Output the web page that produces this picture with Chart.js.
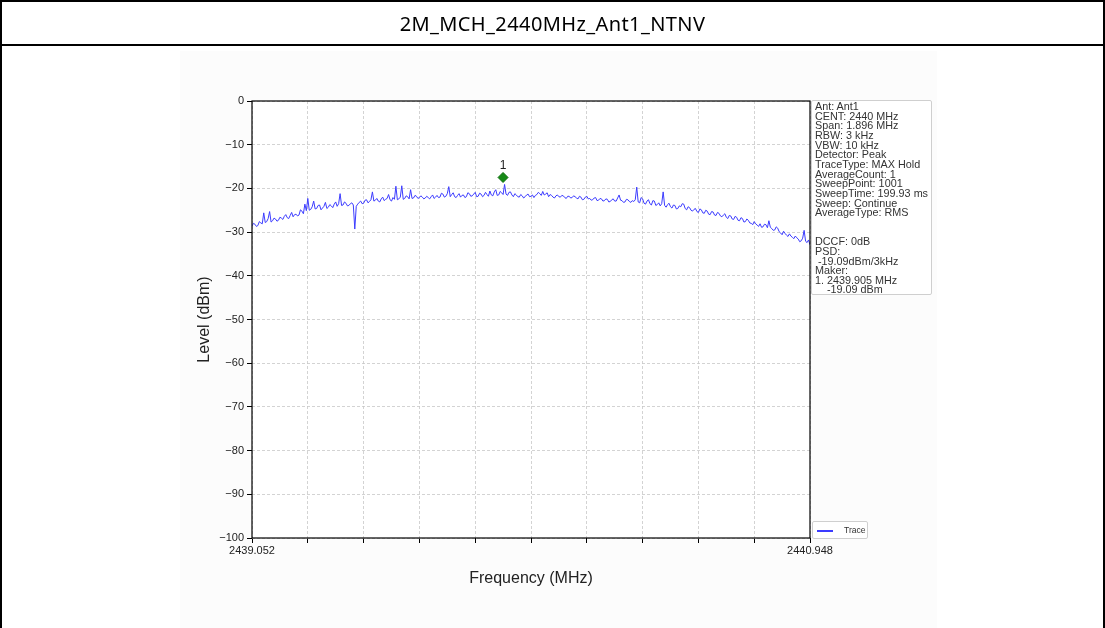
<!DOCTYPE html>
<html>
<head>
<meta charset="utf-8">
<script src="https://cdn.jsdelivr.net/npm/chart.js@4.4.1/dist/chart.umd.min.js"></script>
<style>
  html, body { margin:0; padding:0; background:#fff; width:1105px; height:628px; overflow:hidden; }
  #frame { position:absolute; left:0; top:0; width:1101px; height:640px; border:2px solid #000; border-bottom:none; }
  #titleRow { position:absolute; left:2px; top:2px; width:1101px; height:42px; border-bottom:2px solid #000;
    font-family:"Noto Sans", sans-serif; font-size:20px; letter-spacing:0.4px; color:#000;
    display:flex; align-items:center; justify-content:center; }
  #figbg { position:absolute; left:180px; top:51px; width:757px; height:577px; background:#fcfcfc; }
  #chartWrap { position:absolute; left:0; top:0; width:1105px; height:628px; }
  #info { position:absolute; left:811px; top:100px; width:121px; height:195px; background:#fff;
    border:1px solid #cfcfcf; border-radius:2px; box-sizing:border-box;
    font-family:"Liberation Sans", Arial, sans-serif; font-size:10.8px; line-height:9.65px; color:#333;
    padding:1px 0 0 3px; white-space:pre; }
  #legend { position:absolute; left:812px; top:521px; width:56px; height:18px; background:#fff;
    border:1px solid #cfcfcf; border-radius:2px; box-sizing:border-box; }
  #legend .ln { position:absolute; left:4px; top:8px; width:16px; height:1.5px; background:#3c3cff; }
  #legend .tx { position:absolute; left:31px; top:3px; font-family:"Liberation Sans", Arial, sans-serif; font-size:8.6px; color:#333; }
</style>
</head>
<body>
<div id="figbg"></div>
<div id="chartWrap"><canvas id="c" width="1105" height="628"></canvas></div>
<div id="frame"></div>
<div id="titleRow">2M_MCH_2440MHz_Ant1_NTNV</div>
<div id="info">Ant: Ant1
CENT: 2440 MHz
Span: 1.896 MHz
RBW: 3 kHz
VBW: 10 kHz
Detector: Peak
TraceType: MAX Hold
AverageCount: 1
SweepPoint: 1001
SweepTime: 199.93 ms
Sweep: Continue
AverageType: RMS


DCCF: 0dB
PSD:
 -19.09dBm/3kHz
Maker:
1. 2439.905 MHz
    -19.09 dBm</div>
<div id="legend"><div class="ln"></div><div class="tx">Trace</div></div>
<script>
// ---- data ----
const sweepStart = 2439.052;
const sweepStop = 2440.948;
const levels = [
  -28.6, -28.0, -28.2, -28.7, -28.5, -27.6, -27.9, -28.1, -25.6, -27.8, -27.6, -26.9, -25.3, -27.7, -27.4, -26.8, -27.0, -27.5, -27.3, -26.6,
  -26.8, -27.1, -26.4, -26.0, -26.7, -26.9, -26.2, -25.5, -26.5, -26.0, -25.9, -26.3, -26.1, -24.9, -25.2, -25.8, -23.6, -25.1, -22.3, -25.0,
  -24.8, -24.2, -22.9, -24.7, -24.6, -23.9, -23.8, -24.9, -24.5, -24.1, -23.2, -24.6, -24.3, -23.7, -24.0, -24.4, -23.6, -23.1, -24.1, -23.5,
  -21.2, -23.9, -23.8, -23.1, -23.4, -24.0, -23.9, -23.5, -23.3, -23.8, -29.3, -24.1, -23.6, -23.2, -22.9, -23.5, -23.4, -22.7, -22.6, -23.3,
  -23.0, -22.6, -20.8, -22.9, -22.7, -22.3, -22.9, -23.1, -22.4, -22.0, -22.8, -22.5, -22.3, -21.4, -22.6, -22.9, -22.1, -22.5, -19.5, -22.6,
  -22.4, -22.0, -19.4, -22.5, -22.3, -21.7, -21.9, -22.4, -20.3, -22.3, -22.2, -21.6, -21.8, -22.3, -22.1, -21.7, -22.0, -22.4, -22.2, -21.8,
  -22.1, -22.4, -21.9, -21.5, -22.3, -22.0, -21.6, -22.1, -22.0, -21.1, -21.3, -22.0, -21.8, -21.2, -19.6, -21.9, -21.4, -21.0, -21.9, -22.1,
  -21.6, -21.2, -22.0, -21.6, -21.5, -22.1, -21.9, -21.0, -21.2, -21.8, -21.7, -21.3, -20.9, -21.9, -21.8, -21.1, -21.3, -21.9, -21.6, -20.9,
  -21.4, -21.8, -20.6, -21.5, -21.7, -20.8, -20.3, -21.6, -21.5, -20.7, -21.0, -21.4, -19.1, -21.3, -21.6, -20.9, -20.8, -21.5, -21.9, -21.2,
  -21.5, -21.9, -22.0, -21.4, -21.7, -22.2, -21.9, -21.5, -21.3, -21.9, -21.8, -21.5, -22.1, -21.6, -21.4, -20.9, -21.2, -21.6, -20.7, -21.5,
  -21.3, -21.0, -21.9, -21.4, -21.6, -22.0, -22.2, -21.7, -21.5, -21.9, -22.0, -21.6, -21.7, -22.1, -22.3, -21.8, -21.8, -22.2, -22.1, -21.7,
  -21.9, -22.2, -22.4, -21.8, -22.0, -22.6, -22.5, -22.0, -21.8, -22.4, -22.3, -22.7, -22.6, -22.2, -22.1, -22.8, -22.7, -22.3, -22.4, -22.9,
  -22.8, -22.4, -22.5, -23.1, -23.0, -22.6, -22.4, -22.9, -22.9, -22.2, -21.5, -22.7, -22.8, -23.2, -23.1, -22.5, -22.6, -23.0, -23.2, -22.8,
  -23.0, -22.6, -19.7, -23.1, -23.3, -22.1, -22.4, -23.4, -23.6, -22.9, -22.6, -23.5, -23.8, -22.8, -22.9, -23.9, -23.7, -23.3, -24.0, -23.5,
  -20.8, -23.9, -24.3, -23.7, -23.4, -24.2, -24.5, -23.8, -23.9, -24.7, -24.6, -24.0, -24.2, -23.5, -23.6, -24.6, -24.9, -24.2, -24.4, -25.0,
  -25.2, -24.8, -24.6, -25.3, -25.5, -24.7, -24.9, -25.6, -25.7, -25.0, -25.2, -25.9, -26.0, -25.3, -25.4, -26.1, -26.2, -25.5, -25.7, -26.3,
  -26.5, -26.1, -25.8, -26.6, -26.9, -26.2, -26.3, -27.0, -27.1, -26.4, -26.6, -27.3, -27.4, -26.7, -26.9, -27.7, -27.6, -27.0, -27.3, -27.9,
  -28.0, -28.3, -27.6, -28.1, -28.4, -28.7, -28.1, -28.9, -28.8, -28.2, -28.3, -29.0, -27.4, -28.9, -29.2, -29.6, -29.5, -28.8, -29.1, -29.9,
  -30.2, -30.6, -29.8, -30.3, -30.7, -31.0, -30.4, -30.9, -31.2, -31.5, -30.9, -31.3, -31.6, -32.2, -32.0, -31.4, -29.6, -32.1, -32.4, -31.8,
  -32.9
];
const markerFreq = [2439.905];
const markerLevel = [-17.5];
const markerLabels = ['1'];
const xTickLabels = ['2439.052', '', '', '', '', '', '', '', '', '', '2440.948'];
const yMin = -100, yMax = 0, yStep = 10;

const tracePoints = levels.map((v, i) => ({
  x: sweepStart + i * (sweepStop - sweepStart) / (levels.length - 1), y: v
}));
const markerPoints = markerFreq.map((f, i) => ({ x: f, y: markerLevel[i] }));

const frameAndLabels = {
  id: 'frameAndLabels',
  beforeDraw(chart) {
    const { ctx, chartArea: a } = chart;
    ctx.save();
    ctx.fillStyle = '#ffffff';
    ctx.fillRect(a.left, a.top, a.right - a.left, a.bottom - a.top);
    ctx.restore();
  },
  afterDraw(chart) {
    const { ctx, chartArea: a } = chart;
    ctx.save();
    ctx.strokeStyle = '#000';
    ctx.lineWidth = 1.2;
    ctx.strokeRect(a.left, a.top, a.right - a.left, a.bottom - a.top);
    const meta = chart.getDatasetMeta(1);
    ctx.fillStyle = '#222';
    ctx.font = '12px "Liberation Sans", Arial, sans-serif';
    ctx.textAlign = 'center';
    ctx.textBaseline = 'middle';
    meta.data.forEach((pt, i) => ctx.fillText(markerLabels[i], pt.x, pt.y - 12));
    ctx.restore();
  }
};

const gridOpts = { color: '#c8c8c8', lineWidth: 0.8, tickLength: 5,
  tickColor: '#000', tickBorderDash: [], tickWidth: 1 };

new Chart(document.getElementById('c'), {
  type: 'line',
  data: {
    datasets: [
      { label: 'Trace', data: tracePoints, borderColor: '#3c3cff', borderWidth: 1,
        pointRadius: 0, tension: 0, fill: false },
      { label: 'Marker', data: markerPoints, showLine: false, pointStyle: 'rectRot',
        pointRadius: 5, pointBackgroundColor: '#168a16', pointBorderColor: '#0d6e0d', pointBorderWidth: 1 }
    ]
  },
  options: {
    responsive: false,
    animation: false,
    events: [],
    layout: { padding: { left: 150, right: 295, top: 101, bottom: 40 } },
    plugins: { legend: { display: false }, tooltip: { enabled: false } },
    scales: {
      x: {
        type: 'linear', min: sweepStart, max: sweepStop,
        afterBuildTicks(scale) {
          scale.ticks = xTickLabels.map((_, k) => ({ value: sweepStart + k * (sweepStop - sweepStart) / (xTickLabels.length - 1) }));
        },
        afterFit(scale) { scale.height = 50; },
        ticks: {
          autoSkip: false, maxRotation: 0, padding: 1, color: '#222',
          font: { family: '"Liberation Sans", Arial, sans-serif', size: 11 },
          callback: (v, i) => xTickLabels[i]
        },
        grid: gridOpts,
        border: { display: false, dash: [3, 2] },
        title: { display: true, text: 'Frequency (MHz)', color: '#222',
          font: { family: '"Liberation Sans", Arial, sans-serif', size: 16 }, padding: { top: 3, bottom: 0 } }
      },
      y: {
        min: yMin, max: yMax,
        afterFit(scale) { scale.width = 102; },
        ticks: { stepSize: yStep, padding: 3, color: '#222',
          font: { family: '"Liberation Sans", Arial, sans-serif', size: 11 },
          callback: v => String(v).replace('-', '\u2212') },
        grid: gridOpts,
        border: { display: false, dash: [3, 2] },
        title: { display: true, text: 'Level (dBm)', color: '#222',
          font: { family: '"Liberation Sans", Arial, sans-serif', size: 16 }, padding: { top: 45, bottom: 0 } }
      }
    }
  },
  plugins: [frameAndLabels]
});
</script>
</body>
</html>
